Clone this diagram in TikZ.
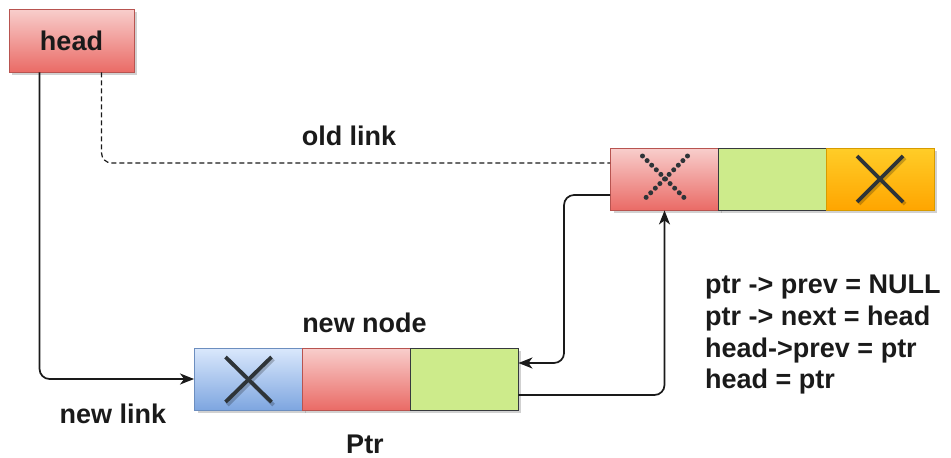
\documentclass[tikz,border=0pt]{standalone}
\usepackage{fontspec}
\setmainfont{Liberation Sans}
\usetikzlibrary{arrows.meta,shadows}

% draw.io style palette
\definecolor{redTop}{HTML}{F8CECC}
\definecolor{redBot}{HTML}{EA6B66}
\definecolor{redLine}{HTML}{B85450}
\definecolor{greenFill}{HTML}{CDEB8B}
\definecolor{greenLine}{HTML}{36393D}
\definecolor{orangeTop}{HTML}{FFCD28}
\definecolor{orangeBot}{HTML}{FFA500}
\definecolor{orangeLine}{HTML}{D79B00}
\definecolor{blueTop}{HTML}{DAE8FC}
\definecolor{blueBot}{HTML}{7EA6E0}
\definecolor{blueLine}{HTML}{6C8EBF}
\definecolor{ink}{HTML}{1A1A1A}
\definecolor{crossInk}{HTML}{2E3438}

\tikzset{
  boxshadow/.style={drop shadow={shadow xshift=3pt,shadow yshift=-3pt,opacity=0.4,fill=black!45}},
  cell/.style={draw,line width=0.9pt,minimum width=108pt,minimum height=62pt,inner sep=0pt,boxshadow},
  redcell/.style={cell,draw=redLine,top color=redTop,bottom color=redBot},
  greencell/.style={cell,draw=greenLine,fill=greenFill},
  orangecell/.style={cell,draw=orangeLine,top color=orangeTop,bottom color=orangeBot},
  bluecell/.style={cell,draw=blueLine,top color=blueTop,bottom color=blueBot},
  label/.style={font=\fontsize{27}{32}\selectfont\bfseries,text=ink,inner sep=0pt},
  link/.style={draw=ink,line width=1.7pt,rounded corners=10pt},
  tip/.style={-{Stealth[length=14pt,width=11pt,inset=4pt]}},
  crossline/.style={draw=crossInk,line width=3.8pt},
  crossshade/.style={draw=black,opacity=0.22,line width=3.8pt},
  crossdots/.style={draw=crossInk,line width=5pt,line cap=round,dash pattern=on 0pt off 6.5pt},
}

\begin{document}
\begin{tikzpicture}[x=1pt,y=-1pt]
\useasboundingbox (0,0) rectangle (951,458);

% head pointer box
\node[cell,draw=redLine,top color=redTop,bottom color=redBot,minimum width=125pt,minimum height=63pt,
      font=\fontsize{27}{32}\selectfont\bfseries,text=ink] (head) at (71.5,40.5) {head};

% existing first node of the list
\node[redcell]    (o1) at (664.5,179) {};
\node[greencell]  (o2) at (772,179) {};
\node[orangecell] (o3) at (880,179) {};

% new node Ptr
\node[bluecell]  (n1) at (248.5,379) {};
\node[redcell]   (n2) at (356,379) {};
\node[greencell] (n3) at (464,379) {};

% NULL markers
\draw[crossshade] ([shift={(-21,-20)}]n1.center) -- ([shift={(25,26)}]n1.center);
\draw[crossshade] ([shift={(25,-20)}]n1.center) -- ([shift={(-21,26)}]n1.center);
\draw[crossline] ([shift={(-23,-22)}]n1.center) -- ([shift={(23,23)}]n1.center);
\draw[crossline] ([shift={(23,-22)}]n1.center) -- ([shift={(-23,23)}]n1.center);

\draw[crossshade] ([shift={(-21,-21)}]o3.center) -- ([shift={(25,25)}]o3.center);
\draw[crossshade] ([shift={(25,-21)}]o3.center) -- ([shift={(-21,25)}]o3.center);
\draw[crossline] ([shift={(-23,-23)}]o3.center) -- ([shift={(23,23)}]o3.center);
\draw[crossline] ([shift={(23,-23)}]o3.center) -- ([shift={(-23,23)}]o3.center);

% removed prev link (dotted cross)
\draw[crossdots] ([shift={(-22,-23)}]o1.center) -- ([shift={(23,22)}]o1.center);
\draw[crossdots] ([shift={(23,-23)}]o1.center) -- ([shift={(-22,22)}]o1.center);

% connectors
\draw[link,tip] ([xshift=31pt]head.south west) |- (n1.west);
\draw[link,dashed,dash pattern=on 5pt off 3pt,line width=1.2pt]
  ([xshift=93pt]head.south west) |- ([yshift=16pt]o1.west);
\draw[link,tip] ([yshift=-16pt]o1.west) -- ++(-46,0) |- ([yshift=16pt]n3.east);
\draw[link,tip] ([yshift=-16pt]n3.east) -| (o1.south);

% labels
\node[label,anchor=base] (oldlink) at (349,145) {old link};
\node[label,anchor=base] (newnode) at (364.5,332) {new node};
\node[label,anchor=base] (newlink) at (113,423) {new link};
\node[label,anchor=base] (ptr) at (365,453) {Ptr};

% pointer updates
\node[label,anchor=base west] (code1) at (705,293) {ptr -> prev = NULL};
\node[label,anchor=base west] (code2) at (705,325) {ptr -> next = head};
\node[label,anchor=base west] (code3) at (705,357) {head->prev = ptr};
\node[label,anchor=base west] (code4) at (705,388) {head = ptr};
\end{tikzpicture}
\end{document}
